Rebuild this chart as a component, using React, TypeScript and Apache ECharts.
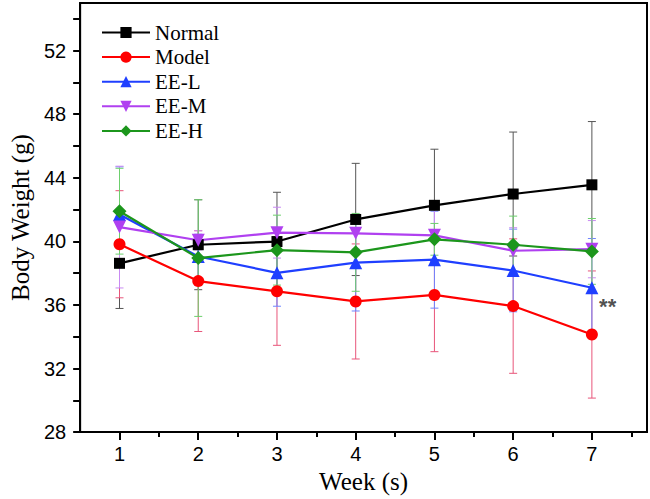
import React, { useEffect, useRef } from "react";
import * as echarts from "echarts";

const weeks = [1, 2, 3, 4, 5, 6, 7];
const seriesNames = ["Normal", "Model", "EE-L", "EE-M", "EE-H"];
const normal = [38.62, 39.79, 39.99, 41.38, 42.27, 42.98, 43.56];
const normalSD = [2.84, 2.83, 3.1, 3.53, 3.53, 3.9, 3.98];
const model = [39.82, 37.5, 36.86, 36.22, 36.63, 35.93, 34.14];
const modelSD = [3.37, 3.17, 3.4, 3.62, 3.57, 4.23, 4.0];
const eeL = [41.69, 39.05, 38.02, 38.66, 38.85, 38.17, 37.08];
const eeLSD = [3.0, 1.4, 2.1, 3.04, 3.05, 2.6, 3.1];
const eeM = [40.9, 40.07, 40.55, 40.51, 40.38, 39.41, 39.51];
const eeMSD = [3.83, 0.6, 1.6, 1.0, 1.7, 1.45, 1.8];
const eeH = [41.9, 38.95, 39.45, 39.31, 40.13, 39.79, 39.37];
const eeHSD = [2.7, 3.67, 2.2, 2.45, 1.0, 1.8, 2.07];
const yTickLabels = [28, 32, 36, 40, 44, 48, 52];
const yTicks = [28, 30, 32, 34, 36, 38, 40, 42, 44, 46, 48, 50, 52, 54];
const xMajorTicks = [1, 2, 3, 4, 5, 6, 7];
const xMinorTicks = [1.5, 2.5, 3.5, 4.5, 5.5, 6.5, 7.5];
const annotation = { text: "**", x: 7.2, y: 35.9 };

const lineColors = ["#000000", "#ff0000", "#1f3fff", "#b040f0", "#1c961c"];
const barColors = ["#555555", "#e8557a", "#6f84ff", "#c98af2", "#6dcf6d"];
const symbols = ["rect", "circle", "triangle", "path://M0,0 L10,0 L5,9 Z", "diamond"];
const symbolSizes = [11, 12, 13, 13, 14];

export default function App() {
  const ref = useRef<HTMLDivElement>(null);
  useEffect(() => {
    if (!ref.current) return;
    const chart = echarts.init(ref.current, null, { renderer: "svg" });
    const means = [normal, model, eeL, eeM, eeH];
    const sds = [normalSD, modelSD, eeLSD, eeMSD, eeHSD];

    const errorSeries = means.map((m, k) => ({
      type: "custom",
      name: seriesNames[k] + " SD",
      xAxisIndex: 0,
      yAxisIndex: 0,
      z: 1,
      silent: true,
      data: weeks.map((w, i) => [w, m[i] - sds[k][i], m[i] + sds[k][i]]),
      encode: { x: 0, y: [1, 2] },
      renderItem: (params: any, api: any) => {
        const x = api.value(0);
        const lo = api.coord([x, api.value(1)]);
        const hi = api.coord([x, api.value(2)]);
        const hw = 4;
        const style = { stroke: barColors[k], lineWidth: 1 };
        return {
          type: "group",
          children: [
            { type: "line", shape: { x1: lo[0], y1: lo[1], x2: hi[0], y2: hi[1] }, style },
            { type: "line", shape: { x1: lo[0] - hw, y1: lo[1], x2: lo[0] + hw, y2: lo[1] }, style },
            { type: "line", shape: { x1: hi[0] - hw, y1: hi[1], x2: hi[0] + hw, y2: hi[1] }, style },
          ],
        };
      },
    }));

    const lineSeries = means.map((m, k) => ({
      type: "line",
      name: seriesNames[k],
      xAxisIndex: 0,
      yAxisIndex: 0,
      z: 3,
      data: weeks.map((w, i) => [w, m[i]]),
      symbol: symbols[k],
      symbolSize: symbolSizes[k],
      showAllSymbol: true,
      lineStyle: { color: lineColors[k], width: 2.2 },
      itemStyle: { color: lineColors[k] },
    }));

    chart.setOption({
      animation: false,
      backgroundColor: "#ffffff",
      grid: {
        left: 74,
        right: 3,
        top: 3,
        bottom: 62,
        show: true,
        borderColor: "#000",
        borderWidth: 2,
        backgroundColor: "transparent",
      },
      legend: {
        data: seriesNames,
        orient: "vertical",
        left: 101,
        top: 22,
        padding: 0,
        itemWidth: 48,
        itemHeight: 14,
        itemGap: 3.6,
        textStyle: { fontFamily: "Liberation Serif", fontSize: 21, color: "#000" },
      },
      xAxis: [
        {
          type: "value",
          min: 0.5,
          max: 7.7,
          interval: 0.5,
          position: "bottom",
          splitLine: { show: false },
          axisLine: { show: true, lineStyle: { color: "#000", width: 2 } },
          axisTick: { show: true, length: 8, customValues: xMajorTicks, lineStyle: { color: "#000", width: 2 } },
          axisLabel: {
            customValues: xMajorTicks,
            fontFamily: "Liberation Sans",
            fontSize: 20,
            color: "#000",
            margin: 12,
          },
          name: "Week (s)",
          nameLocation: "middle",
          nameGap: 33,
          nameTextStyle: { fontFamily: "Liberation Serif", fontSize: 25, color: "#000" },
        },
        {
          type: "value",
          min: 0.5,
          max: 7.7,
          interval: 0.5,
          position: "bottom",
          offset: 0,
          splitLine: { show: false },
          axisLine: { show: false },
          axisTick: { show: true, length: 5, customValues: xMinorTicks, lineStyle: { color: "#000", width: 2 } },
          axisLabel: { show: false },
        },
      ],
      yAxis: {
        type: "value",
        min: 28,
        max: 55,
        interval: 4,
        splitLine: { show: false },
        axisLine: { show: true, lineStyle: { color: "#000", width: 2 } },
        axisTick: { show: true, length: 7, customValues: yTicks, lineStyle: { color: "#000", width: 2 } },
        axisLabel: {
          customValues: yTickLabels,
          fontFamily: "Liberation Sans",
          fontSize: 20,
          color: "#000",
          margin: 14,
        },
        name: "Body Weight (g)",
        nameLocation: "middle",
        nameGap: 46,
        nameTextStyle: { fontFamily: "Liberation Serif", fontSize: 25, color: "#000" },
      },
      series: [
        ...errorSeries,
        ...lineSeries,
        {
          type: "scatter",
          name: "annotation",
          xAxisIndex: 0,
          yAxisIndex: 0,
          symbolSize: 0,
          silent: true,
          z: 4,
          data: [[annotation.x, annotation.y]],
          label: {
            show: true,
            position: "inside",
            formatter: annotation.text,
            fontFamily: "Liberation Sans",
            fontSize: 22,
            fontWeight: "bold",
            color: "#222",
          },
        },
      ],
    });
    return () => chart.dispose();
  }, []);
  return (
    <div
      ref={ref}
      style={{ position: "absolute", left: 0, top: 0, width: 650, height: 499, background: "#fff" }}
    />
  );
}
